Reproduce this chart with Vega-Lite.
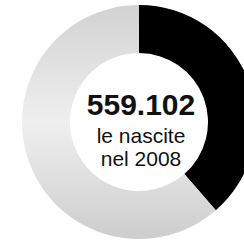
{
  "$schema": "https://vega.github.io/schema/vega-lite/v6.json",
  "width": 222,
  "height": 238,
  "padding": {"left": 22, "top": 3, "right": 0, "bottom": 0},
  "background": "white",
  "config": {"view": {"stroke": null}},
  "layer": [
    {
      "data": {"values": [
        {"segment": "evidenziato", "value": 38.6, "idx": 1},
        {"segment": "resto", "value": 61.4, "idx": 2}
      ]},
      "mark": {"type": "arc", "outerRadius": 117, "innerRadius": 69},
      "encoding": {
        "theta": {"field": "value", "type": "quantitative", "stack": true},
        "order": {"field": "idx", "type": "quantitative"},
        "fill": {
          "condition": {"test": "datum.segment === 'evidenziato'", "value": "#000000"},
          "value": {"gradient": "linear", "x1": 0, "y1": 0, "x2": 0, "y2": 1,
            "stops": [
              {"offset": 0, "color": "#d2d2d2"},
              {"offset": 0.5, "color": "#efefef"},
              {"offset": 1, "color": "#cdcdcd"}
            ]}
        }
      }
    },
    {
      "data": {"values": [
        {"text": "559.102", "line": 1},
        {"text": "le nascite", "line": 2},
        {"text": "nel 2008", "line": 3}
      ]},
      "transform": [{"filter": "datum.line === 1"}],
      "mark": {"type": "text", "font": "Liberation Sans", "fontWeight": "bold", "fontSize": 30, "dx": 2, "dy": -7, "baseline": "alphabetic", "align": "center", "color": "#111111"},
      "encoding": {"text": {"field": "text", "type": "nominal"}}
    },
    {
      "data": {"values": [
        {"text": "559.102", "line": 1},
        {"text": "le nascite", "line": 2},
        {"text": "nel 2008", "line": 3}
      ]},
      "transform": [{"filter": "datum.line === 2"}],
      "mark": {"type": "text", "font": "Liberation Sans", "fontSize": 21, "dx": 2, "dy": 21, "baseline": "alphabetic", "align": "center", "color": "#111111"},
      "encoding": {"text": {"field": "text", "type": "nominal"}}
    },
    {
      "data": {"values": [
        {"text": "559.102", "line": 1},
        {"text": "le nascite", "line": 2},
        {"text": "nel 2008", "line": 3}
      ]},
      "transform": [{"filter": "datum.line === 3"}],
      "mark": {"type": "text", "font": "Liberation Sans", "fontSize": 21, "dx": 2, "dy": 44, "baseline": "alphabetic", "align": "center", "color": "#111111"},
      "encoding": {"text": {"field": "text", "type": "nominal"}}
    }
  ]
}
